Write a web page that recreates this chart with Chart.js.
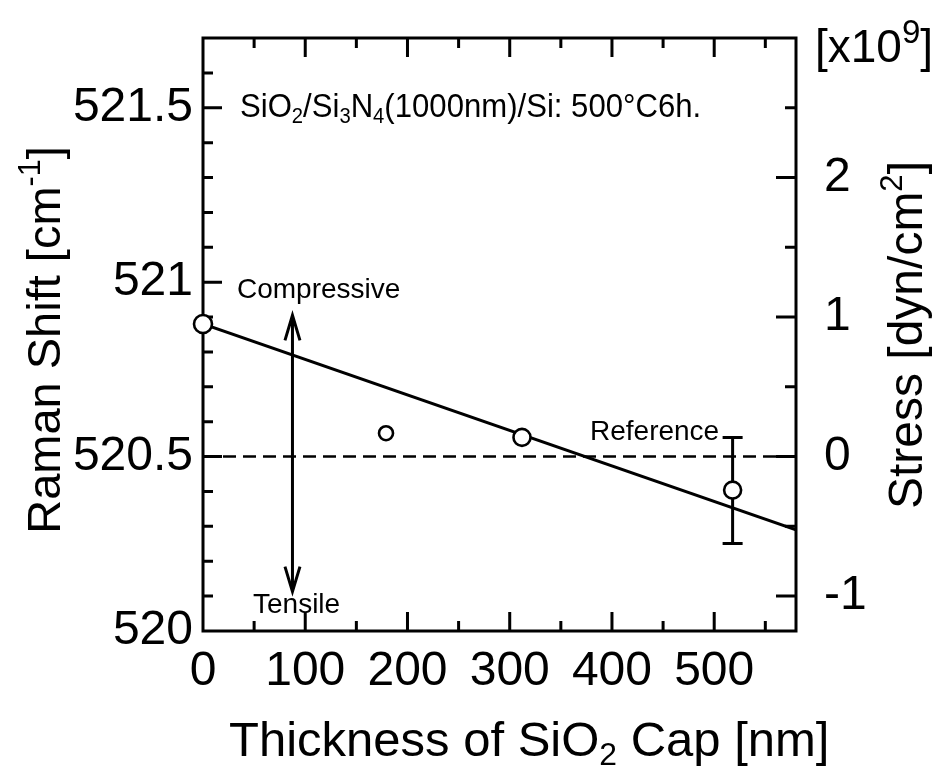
<!DOCTYPE html>
<html>
<head>
<meta charset="utf-8">
<script src="https://cdn.jsdelivr.net/npm/chart.js@4.4.0/dist/chart.umd.min.js"></script>
<style>
  html, body { margin: 0; padding: 0; background: #fff; }
</style>
</head>
<body>
<canvas id="ramanChart" width="945" height="768"></canvas>
<script>
// measured points (SiO2 cap thickness in nm, Raman shift in cm-1)
var thickness = [0, 179, 312, 518];
var ramanShift = [520.88, 520.567, 520.555, 520.404];
var errLow = [null, null, null, 520.251];
var errHigh = [null, null, null, 520.555];

// fitted line and the reference (unstressed) level
var fitX = [0, 580];
var fitY = [520.88, 520.29];
var refX = [0, 580];
var refY = [520.5, 520.5];

// compressive / tensile arrow
var arrowX = 87.5;
var arrowTop = 520.905;
var arrowBottom = 520.113;

// tick labels
var xTicks = [0, 100, 200, 300, 400, 500];
var yTicks = [520, 520.5, 521, 521.5];
var y2Ticks = [-1, 0, 1, 2];

var FONT = "'Liberation Sans', Arial, Helvetica, sans-serif";

function drawRich(ctx, runs, x, y, size, align, sx) {
    // runs: [text, 'sub'|'sup'|'', scale]
    sx = sx || 1;
    var w = 0;
    runs.forEach(function(r) {
        var s = r[1] ? size * (r[2] || 0.65) : size;
        ctx.font = s + 'px ' + FONT;
        w += ctx.measureText(r[0]).width;
    });
    ctx.save();
    ctx.translate(x, y);
    ctx.scale(sx, 1);
    var cx = align === 'center' ? -w / 2 : 0;
    runs.forEach(function(r) {
        var s = r[1] ? size * (r[2] || 0.65) : size;
        var dy = r[1] === 'sub' ? size * 0.18 : (r[1] === 'sup' ? -size * 0.42 : 0);
        ctx.font = s + 'px ' + FONT;
        ctx.fillText(r[0], cx, dy);
        cx += ctx.measureText(r[0]).width;
    });
    ctx.restore();
}

function noPadding(s) {
    s.paddingTop = 0; s.paddingBottom = 0; s.paddingLeft = 0; s.paddingRight = 0;
}

var framePlugin = {
    id: 'frame',
    beforeDatasetsDraw: function(chart) {
        var ctx = chart.ctx;
        var a = chart.chartArea;
        var sx = chart.scales.x, sy = chart.scales.y, sy2 = chart.scales.y2;
        ctx.save();
        ctx.strokeStyle = '#000';
        ctx.lineWidth = 3;
        ctx.lineCap = 'butt';
        ctx.strokeRect(a.left, a.top, a.right - a.left, a.bottom - a.top);

        ctx.beginPath();
        // x ticks every 50 nm, top and bottom, pointing inward
        for (var i = 1; i * 50 < 580; i++) {
            var px = sx.getPixelForValue(i * 50);
            var len = (i % 2 === 0) ? 19 : 10;
            ctx.moveTo(px, a.bottom); ctx.lineTo(px, a.bottom - len);
            ctx.moveTo(px, a.top); ctx.lineTo(px, a.top + len);
        }
        // left ticks every 0.1
        for (var j = 1; j < 17; j++) {
            var py = sy.getPixelForValue(520 + j * 0.1);
            var l2 = (j % 5 === 0) ? 19 : 10;
            ctx.moveTo(a.left, py); ctx.lineTo(a.left + l2, py);
        }
        // right ticks every 0.5
        for (var k = -2; k < 6; k++) {
            var py2 = sy2.getPixelForValue(k * 0.5);
            var l3 = (k % 2 === 0) ? 20 : 11;
            ctx.moveTo(a.right, py2); ctx.lineTo(a.right - l3, py2);
        }
        ctx.stroke();

        // error bars
        ctx.beginPath();
        thickness.forEach(function(t, i) {
            if (errLow[i] === null) return;
            var px = sx.getPixelForValue(t);
            var lo = sy.getPixelForValue(errLow[i]);
            var hi = sy.getPixelForValue(errHigh[i]);
            ctx.moveTo(px, lo); ctx.lineTo(px, hi);
            ctx.moveTo(px - 10, lo); ctx.lineTo(px + 10, lo);
            ctx.moveTo(px - 10, hi); ctx.lineTo(px + 10, hi);
        });
        ctx.stroke();
        ctx.restore();
    },
    afterDatasetsDraw: function(chart) {
        var ctx = chart.ctx;
        var sx = chart.scales.x, sy = chart.scales.y;
        ctx.save();
        ctx.strokeStyle = '#000';
        ctx.fillStyle = '#000';
        ctx.lineWidth = 3;

        // double arrow
        var ax = sx.getPixelForValue(arrowX);
        var at = sy.getPixelForValue(arrowTop);
        var ab = sy.getPixelForValue(arrowBottom);
        ctx.beginPath();
        ctx.moveTo(ax, at); ctx.lineTo(ax, ab);
        ctx.moveTo(ax - 7.5, at + 25); ctx.lineTo(ax, at); ctx.lineTo(ax + 7.5, at + 25);
        ctx.moveTo(ax - 7.5, ab - 25); ctx.lineTo(ax, ab); ctx.lineTo(ax + 7.5, ab - 25);
        ctx.stroke();

        ctx.textAlign = 'left';
        ctx.textBaseline = 'alphabetic';
        drawRich(ctx, [['SiO', ''], ['2', 'sub'], ['/Si', ''], ['3', 'sub'], ['N', ''], ['4', 'sub'],
            ['(1000nm)/Si: 500\u00B0C6h.', '']], 240, 117, 34, 'left', 0.915);
        drawRich(ctx, [['Compressive', '']], 237, 298, 28);
        drawRich(ctx, [['Tensile', '']], 253, 613, 28);
        drawRich(ctx, [['Reference', '']], 590, 440, 28);
        drawRich(ctx, [['[x10', ''], ['9', 'sup', 0.72], [']', '']], 815, 62, 46);

        // x axis title
        drawRich(ctx, [['Thickness of SiO', ''], ['2', 'sub'], [' Cap [nm]', '']], 229, 756, 49);

        // left axis title (reads bottom to top)
        ctx.save();
        ctx.translate(60, 340);
        ctx.rotate(-Math.PI / 2);
        drawRich(ctx, [['Raman Shift [cm', ''], ['-1', 'sup'], [']', '']], 0, 0, 47, 'center');
        ctx.restore();

        // right axis title
        ctx.save();
        ctx.translate(922, 335);
        ctx.rotate(-Math.PI / 2);
        drawRich(ctx, [['Stress [dyn/cm', ''], ['2', 'sup'], [']', '']], 0, 0, 48, 'center');
        ctx.restore();

        ctx.restore();
    }
};

var tickFont = { family: FONT, size: 48 };

var ctx = document.getElementById('ramanChart').getContext('2d');
var chart = new Chart(ctx, {
    type: 'scatter',
    data: {
        datasets: [
            {
                label: 'Measured',
                data: thickness.map(function(t, i) { return { x: t, y: ramanShift[i] }; }),
                showLine: false,
                pointRadius: [9, 7, 8.5, 8.5],
                pointBorderWidth: 2.6,
                pointBackgroundColor: '#fff',
                pointBorderColor: '#000',
                yAxisID: 'y',
                clip: false,
                order: 0
            },
            {
                label: 'Fit',
                type: 'line',
                data: fitX.map(function(x, i) { return { x: x, y: fitY[i] }; }),
                borderColor: '#000',
                borderWidth: 3,
                pointRadius: 0,
                fill: false,
                yAxisID: 'y',
                order: 1
            },
            {
                label: 'Reference',
                type: 'line',
                data: refX.map(function(x, i) { return { x: x, y: refY[i] }; }),
                borderColor: '#000',
                borderWidth: 2.5,
                borderDash: [13, 7],
                pointRadius: 0,
                fill: false,
                yAxisID: 'y',
                order: 2
            }
        ]
    },
    options: {
        responsive: false,
        animation: false,
        layout: { padding: { top: 38, left: 0, right: 0, bottom: 0 } },
        plugins: {
            legend: { display: false },
            tooltip: { enabled: false }
        },
        scales: {
            x: {
                type: 'linear',
                position: 'bottom',
                min: 0,
                max: 580,
                afterBuildTicks: function(s) { s.ticks = xTicks.map(function(v) { return { value: v }; }); },
                afterFit: function(s) { s.height = 137; noPadding(s); },
                grid: { display: false, drawTicks: false },
                border: { display: false },
                ticks: { font: tickFont, color: '#000', padding: 12, maxRotation: 0, autoSkip: false }
            },
            y: {
                type: 'linear',
                position: 'left',
                min: 520,
                max: 521.7,
                afterBuildTicks: function(s) { s.ticks = yTicks.map(function(v) { return { value: v }; }); },
                afterFit: function(s) { s.width = 203; noPadding(s); },
                grid: { display: false, drawTicks: false },
                border: { display: false },
                ticks: { font: tickFont, color: '#000', padding: 10, autoSkip: false,
                    callback: function(v) { return String(v); } }
            },
            y2: {
                type: 'linear',
                position: 'right',
                min: -1.25,
                max: 3,
                afterBuildTicks: function(s) { s.ticks = y2Ticks.map(function(v) { return { value: v }; }); },
                afterFit: function(s) { s.width = 149; noPadding(s); },
                grid: { display: false, drawTicks: false },
                border: { display: false },
                ticks: { font: tickFont, color: '#000', padding: 28, autoSkip: false,
                    callback: function(v) { return String(v); } }
            }
        }
    },
    plugins: [framePlugin]
});
</script>
</body>
</html>
